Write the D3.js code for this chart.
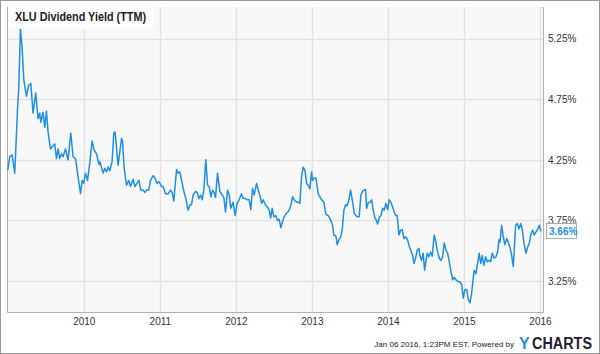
<!DOCTYPE html>
<html>
  <head>
    <title>XLU Dividend Yield</title>
    <script src="https://d3js.org/d3.v7.min.js"></script>
    <style>
    body { margin: 0; background: white; }
    text { font-family: Arial, "Liberation Sans", sans-serif; }
    </style>
  </head>
  <body>
      <script>
          var width = 600;
          var height = 354;

          // decimal years and yield (%)
          var dates = [2009.0,2009.026,2009.057,2009.092,2009.128,2009.145,2009.167,2009.188,2009.211,2009.246,2009.276,2009.303,2009.333,2009.368,2009.399,2009.421,2009.434,2009.464,2009.487,2009.509,2009.53,2009.562,2009.588,2009.618,2009.641,2009.662,2009.684,2009.707,2009.728,2009.759,2009.793,2009.829,2009.859,2009.891,2009.925,2009.957,2009.978,2010.0,2010.022,2010.049,2010.079,2010.109,2010.136,2010.167,2010.201,2010.211,2010.254,2010.276,2010.299,2010.32,2010.342,2010.372,2010.395,2010.412,2010.451,2010.496,2010.509,2010.53,2010.562,2010.592,2010.614,2010.649,2010.671,2010.693,2010.724,2010.75,2010.78,2010.803,2010.825,2010.855,2010.878,2010.912,2010.934,2010.964,2010.991,2011.022,2011.043,2011.075,2011.109,2011.141,2011.162,2011.184,2011.22,2011.241,2011.263,2011.286,2011.316,2011.342,2011.372,2011.395,2011.417,2011.438,2011.47,2011.491,2011.513,2011.536,2011.557,2011.579,2011.605,2011.628,2011.649,2011.671,2011.693,2011.714,2011.733,2011.759,2011.789,2011.82,2011.842,2011.864,2011.891,2011.912,2011.934,2011.964,2011.991,2012.017,2012.043,2012.075,2012.096,2012.128,2012.154,2012.175,2012.197,2012.22,2012.241,2012.272,2012.293,2012.316,2012.338,2012.359,2012.391,2012.417,2012.438,2012.457,2012.478,2012.5,2012.526,2012.549,2012.57,2012.592,2012.614,2012.636,2012.667,2012.697,2012.724,2012.746,2012.767,2012.799,2012.829,2012.842,2012.864,2012.886,2012.908,2012.93,2012.951,2012.974,2012.996,2013.009,2013.03,2013.053,2013.083,2013.105,2013.128,2013.158,2013.184,2013.214,2013.25,2013.272,2013.289,2013.316,2013.333,2013.355,2013.378,2013.399,2013.421,2013.443,2013.464,2013.487,2013.509,2013.536,2013.557,2013.579,2013.601,2013.622,2013.645,2013.667,2013.684,2013.707,2013.72,2013.741,2013.763,2013.786,2013.807,2013.829,2013.851,2013.864,2013.886,2013.908,2013.93,2013.951,2013.974,2013.996,2014.017,2014.039,2014.062,2014.083,2014.105,2014.122,2014.145,2014.167,2014.188,2014.211,2014.237,2014.259,2014.28,2014.303,2014.326,2014.342,2014.364,2014.386,2014.408,2014.421,2014.443,2014.464,2014.483,2014.5,2014.517,2014.539,2014.562,2014.583,2014.609,2014.632,2014.649,2014.675,2014.697,2014.72,2014.741,2014.763,2014.786,2014.807,2014.829,2014.851,2014.872,2014.895,2014.925,2014.947,2014.97,2014.991,2015.013,2015.036,2015.057,2015.079,2015.101,2015.122,2015.136,2015.158,2015.18,2015.201,2015.22,2015.241,2015.263,2015.286,2015.307,2015.329,2015.351,2015.372,2015.395,2015.421,2015.443,2015.461,2015.474,2015.496,2015.517,2015.539,2015.562,2015.583,2015.605,2015.628,2015.649,2015.662,2015.68,2015.701,2015.724,2015.746,2015.767,2015.789,2015.816,2015.838,2015.859,2015.882,2015.904,2015.925,2015.947,2015.97,2015.991,2016.013];
          var yields = [4.165,4.275,4.29,4.14,4.66,4.85,5.33,5.18,4.91,4.775,4.865,4.88,4.635,4.8,4.59,4.635,4.56,4.64,4.52,4.65,4.48,4.34,4.36,4.38,4.26,4.34,4.26,4.3,4.275,4.34,4.25,4.47,4.275,4.26,4.11,3.97,4.08,4.055,4.14,4.08,4.225,4.405,4.33,4.3,4.21,4.235,4.14,4.18,4.15,4.19,4.16,4.235,4.47,4.48,4.205,4.425,4.41,4.19,4.04,4.08,4.03,4.09,4.03,4.05,4.08,4.0,4.0,3.98,4.0,4.0,4.08,4.12,4.1,4.055,4.07,4.03,4.03,3.97,3.97,4.0,3.98,3.91,4.17,4.14,4.15,4.08,3.99,3.93,3.835,3.875,3.88,3.96,3.99,3.98,3.93,3.96,3.92,4.0,4.25,4.04,4.03,3.945,4.0,3.98,3.94,4.14,3.99,3.96,3.94,3.82,4.0,3.96,3.85,3.9,3.79,3.89,3.92,3.97,3.93,3.93,3.92,3.92,3.84,4.015,3.96,4.055,4.0,3.96,3.89,3.92,3.875,3.86,3.835,3.77,3.85,3.78,3.79,3.75,3.76,3.69,3.74,3.78,3.81,3.83,3.875,3.945,3.92,3.9,3.9,3.89,4.11,4.19,4.165,4.055,4.04,4.01,4.15,4.08,4.1,4.1,3.97,3.945,3.92,3.9,3.8,3.79,3.75,3.71,3.63,3.62,3.55,3.59,3.61,3.67,3.835,3.88,3.87,3.92,4.0,3.9,3.81,3.79,3.78,3.78,3.96,3.99,4.0,4.005,3.85,3.895,3.9,3.92,3.835,3.77,3.75,3.72,3.775,3.79,3.85,3.835,3.89,3.84,3.92,3.9,3.86,3.82,3.79,3.79,3.63,3.67,3.675,3.6,3.615,3.59,3.54,3.5,3.46,3.395,3.44,3.505,3.52,3.46,3.42,3.48,3.34,3.41,3.48,3.45,3.49,3.455,3.63,3.57,3.505,3.44,3.42,3.45,3.565,3.505,3.48,3.41,3.33,3.26,3.28,3.26,3.245,3.245,3.22,3.11,3.18,3.18,3.1,3.07,3.15,3.27,3.34,3.31,3.395,3.48,3.395,3.46,3.38,3.45,3.41,3.42,3.41,3.48,3.44,3.45,3.49,3.59,3.57,3.71,3.615,3.55,3.6,3.57,3.53,3.46,3.37,3.505,3.71,3.725,3.68,3.725,3.68,3.565,3.48,3.53,3.56,3.64,3.67,3.63,3.655,3.675,3.71,3.66];

          var yearTicks = [2010, 2011, 2012, 2013, 2014, 2015, 2016];
          var yieldTicks = [3.25, 3.75, 4.25, 4.75, 5.25];
          var lastLabel = "3.66%";

          var data = dates.map(function(d, i){ return {t: d, v: yields[i]}; });

          var plot = {left: 7, right: 543, top: 7, bottom: 312};

          var x = d3.scaleLinear()
                    .domain([2008.99, 2016.04])
                    .range([plot.left, plot.right]);
          var y = d3.scaleLinear()
                    .domain([2.995, 5.51])
                    .range([plot.bottom, plot.top]);

          var svg = d3.select("body")
                      .append("svg")
                      .attr("width", width)
                      .attr("height", height);

          svg.append("rect")
             .attr("x", 0.5).attr("y", 0.5)
             .attr("width", width - 1).attr("height", height - 1)
             .attr("fill", "white")
             .attr("stroke", "#9a9a9a");

          svg.append("rect")
             .attr("x", plot.left).attr("y", plot.top)
             .attr("width", plot.right - plot.left)
             .attr("height", plot.bottom - plot.top)
             .attr("fill", "#f8f8f8");

          // gridlines
          svg.append("g").selectAll("line")
             .data(yieldTicks).enter()
             .append("line")
             .attr("x1", plot.left).attr("x2", plot.right)
             .attr("y1", function(d){ return Math.round(y(d)) + 0.5; })
             .attr("y2", function(d){ return Math.round(y(d)) + 0.5; })
             .attr("stroke", "#e2e2e2").attr("stroke-width", 1.5);

          svg.append("g").selectAll("line")
             .data(yearTicks).enter()
             .append("line")
             .attr("x1", function(d){ return Math.round(x(d)) + 0.5; })
             .attr("x2", function(d){ return Math.round(x(d)) + 0.5; })
             .attr("y1", plot.top).attr("y2", plot.bottom)
             .attr("stroke", "#e2e2e2").attr("stroke-width", 1.5);

          // frame of the plot
          svg.append("path")
             .attr("d", "M" + (plot.left + 0.5) + "," + plot.top + "V" + (plot.bottom + 0.5) + "H" + (plot.right + 0.5) + "V" + plot.top)
             .attr("fill", "none")
             .attr("stroke", "#b0b0b0");

          var line = d3.line()
                       .x(function(d){ return x(d.t); })
                       .y(function(d){ return y(d.v); });

          svg.append("path")
             .datum(data)
             .attr("d", line)
             .attr("fill", "none")
             .attr("stroke", "#1f8ee6")
             .attr("stroke-width", 1.5)
             .attr("stroke-linejoin", "round");

          // title
          svg.append("rect")
             .attr("x", plot.left + 1).attr("y", plot.top)
             .attr("width", 146).attr("height", 22)
             .attr("fill", "white").attr("opacity", 0.85);
          svg.append("text")
             .attr("x", 15).attr("y", 21)
             .attr("font-size", "12px")
             .attr("font-weight", "bold")
             .attr("textLength", 131)
             .attr("lengthAdjust", "spacingAndGlyphs")
             .attr("fill", "#222")
             .text("XLU Dividend Yield (TTM)");

          // right axis
          var yAxis = d3.axisRight(y)
                        .tickValues(yieldTicks)
                        .tickSize(0)
                        .tickPadding(5)
                        .tickFormat(function(d){ return d.toFixed(2) + "%"; });
          var ya = svg.append("g")
                      .attr("transform", "translate(" + plot.right + ",0)")
                      .call(yAxis);
          ya.select(".domain").remove();
          ya.selectAll("text")
            .attr("font-size", "10px")
            .attr("font-family", "Arial, 'Liberation Sans', sans-serif")
            .attr("fill", "#333");

          // bottom axis
          var xAxis = d3.axisBottom(x)
                        .tickValues(yearTicks)
                        .tickSize(0)
                        .tickPadding(6)
                        .tickFormat(d3.format("d"));
          var xa = svg.append("g")
                      .attr("transform", "translate(0," + plot.bottom + ")")
                      .call(xAxis);
          xa.select(".domain").remove();
          xa.selectAll("text")
            .attr("font-size", "10px")
            .attr("font-family", "Arial, 'Liberation Sans', sans-serif")
            .attr("fill", "#333");

          // last value marker
          var last = data[data.length - 1];
          var lg = svg.append("g")
                      .attr("transform", "translate(" + (plot.right + 3) + "," + Math.round(y(last.v)) + ")");
          lg.append("rect")
            .attr("x", 0.5).attr("y", -7.5)
            .attr("width", 30).attr("height", 15)
            .attr("fill", "white")
            .attr("stroke", "#aaa");
          lg.append("text")
            .attr("x", 3).attr("y", 4)
            .attr("font-size", "10px")
            .attr("font-weight", "bold")
            .attr("fill", "#1f8ee6")
            .text(lastLabel);

          // footer
          svg.append("text")
             .attr("x", 514).attr("y", 347)
             .attr("text-anchor", "end")
             .attr("font-size", "8px")
             .style("font-family", "'Liberation Sans Narrow', 'Arial Narrow', sans-serif")
             .attr("fill", "#222")
             .text("Jan 06 2016, 1:23PM EST.  Powered by");

          svg.append("text")
             .attr("x", 519).attr("y", 349)
             .attr("font-size", "16px")
             .attr("font-weight", "bold")
             .attr("fill", "#1f8ee6")
             .text("Y");
          svg.append("text")
             .attr("x", 532).attr("y", 349)
             .attr("font-size", "16px")
             .attr("font-weight", "bold")
             .attr("textLength", 60)
             .attr("lengthAdjust", "spacingAndGlyphs")
             .attr("fill", "#1e2233")
             .text("CHARTS");

      </script>
  </body>
</html>
